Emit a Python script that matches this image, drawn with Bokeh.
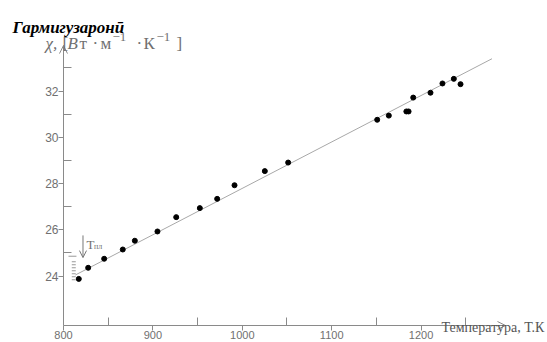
from bokeh.plotting import figure
from bokeh.models import Range1d, LinearAxis, FixedTicker, Arrow, OpenHead, Label, ColumnDataSource
from bokeh.embed import file_html
from bokeh.resources import INLINE

# ---- data ----
temp_K = [817.1, 827.6, 845.5, 866.3, 879.8, 905.1, 926.1, 952.5, 971.9, 991.3,
          1025.2, 1051.3, 1150.9, 1163.9, 1183.5, 1186.0, 1191.2, 1210.5, 1223.9,
          1236.6, 1244.1]
chi = [23.88, 24.36, 24.75, 25.15, 25.53, 25.93, 26.55, 26.94, 27.34, 27.93,
       28.54, 28.91, 30.76, 30.94, 31.12, 31.12, 31.72, 31.93, 32.33, 32.53, 32.30]
fit_T = [813.4, 1279.3]
fit_chi = [24.05, 33.40]

x_major = [800, 900, 1000, 1100, 1200]
x_minor = [850, 950, 1050, 1150, 1250]
y_major = [24, 26, 28, 30, 32]
y_minor = [25, 27, 29, 31, 33]

x_axis_bounds = (799.5, 1294.4)
y_axis_bounds = (21.864, 33.97)
y_axis_at = 800

# melting point marker (T_пл) and small bracket
tm_arrow_T = 821.8
tm_arrow_chi = (25.76, 24.80)
tm_label_T = 825.7
tm_label_chi = 25.37
tm_sub_T = 834.1
tm_sub_chi = 25.28
bracket_T = 811.5
bracket_chi = (24.64, 23.77)
bracket_top_T = (805.6, 814.5)
bracket_top_chi = 24.86

title_text = "Гармигузаронӣ"
# y-axis unit label pieces: (text, is_superscript, italic)
ylabel_parts = [("χ,", False, True), ("[", False, False), ("В", False, True),
                ("т", False, False), ("·", False, False), ("м", False, False),
                ("−1", True, False), ("·", False, False), ("К", False, False),
                ("−1", True, False), ("]", False, False)]
ylabel_x = [45, 62, 67, 79, 92, 100, 112, 136, 143, 156, 176]
xlabel_text = "Температура, Т.К"

AX = "#8a8a8a"
TXT = "#707070"

p = figure(width=547, height=342, x_range=Range1d(729.53, 1341.39),
           y_range=Range1d(21.129, 35.918), x_axis_location=None,
           y_axis_location=None, min_border=0, toolbar_location=None,
           output_backend="svg", outline_line_color=None)
p.background_fill_color = "white"
p.border_fill_color = "white"
p.xgrid.visible = False
p.ygrid.visible = False

def style_axis(ax):
    ax.major_tick_in = 0
    ax.major_tick_out = 7
    ax.minor_tick_in = 8
    ax.minor_tick_out = 0
    ax.axis_line_color = AX
    ax.major_tick_line_color = AX
    ax.minor_tick_line_color = AX
    ax.major_label_text_color = TXT
    ax.major_label_text_font = "Liberation Sans"
    ax.major_label_text_font_size = "12px"

xaxis = LinearAxis(fixed_location=y_axis_bounds[0], bounds=x_axis_bounds,
                   ticker=FixedTicker(ticks=x_major, minor_ticks=x_minor))
style_axis(xaxis)
xaxis.major_tick_out = 5
xaxis.major_label_standoff = 0
xaxis.major_label_text_font_size = "11px"
p.add_layout(xaxis, "below")

yaxis = LinearAxis(fixed_location=y_axis_at, bounds=y_axis_bounds,
                   ticker=FixedTicker(ticks=y_major, minor_ticks=y_minor))
style_axis(yaxis)
yaxis.major_tick_out = 5
yaxis.major_label_standoff = 0
p.add_layout(yaxis, "left")

# axis arrows
p.add_layout(Arrow(end=OpenHead(size=8, line_color=AX, line_width=1),
                   x_start=x_axis_bounds[1] - 5, y_start=y_axis_bounds[0],
                   x_end=x_axis_bounds[1], y_end=y_axis_bounds[0],
                   line_color=AX, line_width=1))
p.add_layout(Arrow(end=OpenHead(size=8, line_color=AX, line_width=1),
                   x_start=y_axis_at, y_start=y_axis_bounds[1] - 0.2,
                   x_end=y_axis_at, y_end=y_axis_bounds[1],
                   line_color=AX, line_width=1))

# fit line
p.line(fit_T, fit_chi, line_color="#a8a8a8", line_width=1)

# data points
src = ColumnDataSource(dict(T=temp_K, chi=chi))
p.scatter("T", "chi", source=src, size=5, color="black")

# T_пл arrow
p.add_layout(Arrow(end=OpenHead(size=7, line_color="#777777", line_width=1),
                   x_start=tm_arrow_T, y_start=tm_arrow_chi[0],
                   x_end=tm_arrow_T, y_end=tm_arrow_chi[1],
                   line_color="#777777", line_width=1))
p.add_layout(Label(x=tm_label_T, y=tm_label_chi, text="Т", text_font="Liberation Serif",
                   text_font_size="13px", text_color=TXT, text_baseline="alphabetic"))
p.add_layout(Label(x=tm_sub_T, y=tm_sub_chi, text="пл", text_font="Liberation Serif",
                   text_font_size="8px", text_color=TXT, text_baseline="alphabetic"))
# small bracket near the melting point
p.segment(x0=[bracket_T], y0=[bracket_chi[0]], x1=[bracket_T], y1=[bracket_chi[1]],
          line_color="#999999", line_width=4, line_dash="1 2")
p.segment(x0=[bracket_top_T[0]], y0=[bracket_top_chi], x1=[bracket_top_T[1]], y1=[bracket_top_chi],
          line_color="#999999", line_width=1)

# texts
p.add_layout(Label(x=12, y=342 - 27, x_units="screen", y_units="screen", text=title_text,
                   text_font="Liberation Serif", text_font_style="bold italic",
                   text_font_size="17px", text_color="black", text_baseline="alphabetic"))
for (txt, sup, ital), xs in zip(ylabel_parts, ylabel_x):
    p.add_layout(Label(x=xs, y=342 - (36 if sup else 43), x_units="screen", y_units="screen",
                       text=txt, text_font="Liberation Serif",
                       text_font_size="13px" if sup else "17px",
                       text_font_style="italic" if ital else "normal",
                       text_color=TXT, text_baseline="alphabetic"))
p.add_layout(Label(x=441, y=342 - 327, x_units="screen", y_units="screen", text=xlabel_text,
                   text_font="Liberation Serif", text_font_size="14px",
                   text_color="#555555", text_baseline="alphabetic"))

open("out.html", "w").write(file_html(p, INLINE))
